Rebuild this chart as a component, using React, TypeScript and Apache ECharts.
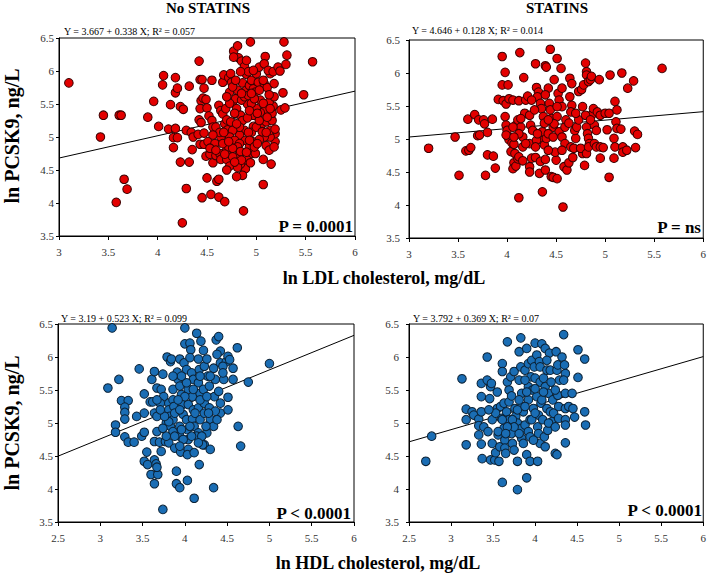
import React, { useEffect, useRef } from "react";
import * as echarts from "echarts";

const panelTitles = ["No STATINS", "STATINS"];
const yAxisTitle = "ln PCSK9, ng/L";
const xAxisTitles = ["ln LDL cholesterol, mg/dL", "ln HDL cholesterol, mg/dL"];
const pLabels = ["P = 0.0001", "P = ns", "P < 0.0001", "P < 0.0001"];
const intercepts = [3.667, 4.646, 3.19, 3.792];
const slopes = [0.338, 0.128, 0.523, 0.369];
const r2Values = [0.057, 0.014, 0.099, 0.07];
const xMins = [3, 3, 2.5, 2.5];
const xMax = 6;

const ldlNoStatins: [number, number][] = [
  [3.1, 5.82], [3.42, 5.0], [3.45, 5.33], [3.61, 5.33], [3.63, 5.33], [3.58, 4.01], [3.66, 4.36], [3.69, 4.21],
  [3.9, 5.3], [3.96, 5.54], [4.01, 5.16], [4.05, 5.79], [4.06, 5.93], [4.13, 5.49], [4.18, 5.9], [4.18, 5.67],
  [4.2, 5.74], [4.11, 5.12], [4.18, 5.13], [4.16, 4.99], [4.16, 4.84], [4.2, 4.99], [4.23, 5.46], [4.26, 5.42],
  [4.32, 5.77], [4.23, 4.62], [4.32, 4.62], [4.29, 4.22], [4.25, 3.7], [4.29, 5.1], [4.34, 5.07], [4.35, 4.81],
  [4.36, 5.0], [4.41, 5.04], [4.42, 5.26], [4.42, 6.15], [4.43, 5.87], [4.45, 5.87], [4.44, 5.55], [4.43, 5.43],
  [4.46, 5.59], [4.47, 5.74], [4.49, 5.57], [4.5, 5.44], [4.44, 5.22], [4.47, 5.06], [4.43, 4.89], [4.47, 4.89],
  [4.51, 4.93], [4.52, 5.32], [4.55, 5.25], [4.56, 5.15], [4.55, 5.86], [4.49, 4.71], [4.5, 4.38], [4.45, 4.08],
  [4.54, 4.13], [4.53, 4.74], [4.56, 4.61], [4.59, 4.72], [4.6, 4.33], [4.62, 4.36], [4.62, 4.09], [4.68, 4.02],
  [4.64, 5.0], [4.63, 4.75], [4.64, 4.66], [4.7, 4.66], [4.73, 4.56], [4.7, 4.8], [4.72, 4.85], [4.62, 5.48],
  [4.64, 5.4], [4.66, 5.35], [4.68, 5.2], [4.69, 5.43], [4.7, 5.26], [4.71, 5.11], [4.66, 5.83], [4.67, 5.94],
  [4.72, 5.9], [4.74, 5.96], [4.75, 5.83], [4.73, 5.68], [4.76, 5.53], [4.77, 6.3], [4.81, 6.38], [4.82, 6.2],
  [4.85, 6.15], [4.79, 5.58], [4.81, 5.71], [4.8, 5.43], [4.84, 5.33], [4.86, 5.82], [4.88, 6.07], [4.9, 5.95],
  [4.92, 5.99], [4.94, 6.44], [4.9, 5.71], [4.93, 5.78], [4.95, 5.86], [4.97, 5.73], [4.99, 5.68], [5.0, 5.96],
  [5.02, 5.83], [4.91, 5.5], [4.86, 5.25], [4.88, 5.1], [4.83, 5.03], [4.89, 4.95], [4.93, 4.85], [4.96, 4.93],
  [4.95, 4.75], [4.99, 4.75], [4.91, 4.65], [4.89, 4.52], [4.86, 4.42], [4.8, 4.4], [4.84, 4.59], [4.83, 4.74],
  [4.76, 4.7], [4.87, 3.88], [5.07, 4.28], [5.07, 4.66], [5.15, 4.59], [5.1, 4.87], [5.19, 4.93], [5.19, 5.05],
  [5.14, 5.0], [5.08, 5.0], [5.03, 4.96], [5.05, 5.18], [5.1, 5.23], [5.16, 5.25], [5.16, 5.36], [5.17, 5.47],
  [5.13, 5.53], [5.18, 5.61], [5.09, 5.41], [5.04, 5.37], [5.0, 5.43], [4.97, 5.33], [4.95, 5.51], [5.04, 5.56],
  [5.08, 5.81], [5.11, 5.75], [5.13, 5.64], [5.07, 5.86], [5.14, 5.96], [5.18, 5.81], [5.03, 6.06], [5.09, 6.22],
  [5.08, 6.11], [5.12, 6.01], [5.17, 5.99], [5.22, 6.06], [5.24, 6.0], [5.27, 5.67], [5.28, 6.44], [5.31, 6.24],
  [5.3, 6.1], [5.25, 5.41], [5.29, 5.44], [5.48, 5.64], [5.57, 6.14], [4.97, 5.16], [4.95, 5.07], [4.92, 5.07],
  [4.83, 5.15], [4.76, 5.1], [4.73, 5.0], [4.78, 4.95], [4.83, 4.9], [4.91, 5.29], [4.93, 5.4], [4.78, 5.36],
  [4.74, 5.23], [4.8, 5.2], [4.85, 5.56], [4.88, 5.61], [4.92, 5.63], [4.98, 5.58], [5.0, 5.15], [5.03, 5.25],
  [5.06, 5.08], [5.11, 5.3], [4.81, 4.85], [4.84, 4.78], [4.76, 4.83], [4.59, 5.15], [4.63, 5.07], [4.58, 4.9],
  [4.53, 4.83], [4.56, 5.03], [4.73, 5.51], [4.7, 5.61], [4.76, 5.76], [4.79, 5.86], [4.84, 5.99], [4.85, 5.66],
  [4.95, 5.66], [5.03, 5.71], [4.9, 6.16], [4.97, 6.01], [4.77, 6.21], [4.59, 4.8], [4.66, 4.9], [4.68, 4.74],
  [4.72, 4.93], [4.81, 4.54], [4.85, 4.65], [4.78, 4.62], [4.94, 4.61], [4.93, 4.95], [4.9, 4.77], [4.98, 4.85],
  [5.01, 4.9], [5.13, 4.8], [5.18, 4.85], [5.14, 5.1], [5.19, 5.12], [5.1, 5.07], [5.07, 5.51], [5.01, 5.36],
  [5.14, 5.43], [4.67, 5.07], [4.7, 4.5],
];

const ldlStatins: [number, number][] = [
  [3.2, 4.86], [3.47, 5.03], [3.51, 4.45], [3.6, 5.3], [3.58, 4.82], [3.61, 4.83], [3.63, 4.87], [3.67, 5.37],
  [3.71, 5.29], [3.7, 5.05], [3.72, 5.06], [3.76, 5.29], [3.77, 5.23], [3.78, 4.45], [3.8, 4.76], [3.8, 5.1],
  [3.85, 5.3], [3.86, 4.74], [3.88, 4.56], [3.91, 5.6], [3.95, 6.25], [3.98, 6.01], [3.95, 5.82], [4.01, 5.82],
  [3.96, 5.58], [3.99, 5.53], [4.02, 5.61], [4.06, 5.59], [3.98, 5.34], [3.99, 5.21], [4.0, 5.13], [4.01, 5.03],
  [4.02, 4.99], [4.05, 4.94], [4.04, 4.81], [4.07, 4.92], [4.08, 4.78], [4.07, 4.64], [4.06, 4.55], [4.09, 4.59],
  [4.11, 4.7], [4.12, 4.73], [4.12, 4.11], [4.13, 6.31], [4.12, 5.58], [4.17, 5.93], [4.18, 5.39], [4.09, 5.21],
  [4.11, 5.29], [4.14, 5.18], [4.16, 5.03], [4.12, 5.08], [4.19, 5.59], [4.21, 5.65], [4.23, 5.36], [4.24, 5.21],
  [4.26, 5.13], [4.23, 4.93], [4.23, 4.58], [4.23, 4.5], [4.25, 4.71], [4.29, 4.72], [4.29, 6.14], [4.3, 5.78],
  [4.32, 5.71], [4.31, 5.64], [4.33, 4.48], [4.34, 4.66], [4.36, 4.2], [4.39, 4.53], [4.39, 4.69], [4.39, 6.11],
  [4.4, 6.09], [4.44, 6.36], [4.34, 5.54], [4.35, 5.46], [4.37, 5.34], [4.38, 5.24], [4.36, 5.11], [4.37, 4.98],
  [4.38, 4.91], [4.4, 5.01], [4.42, 5.77], [4.43, 5.54], [4.44, 5.44], [4.45, 5.31], [4.47, 5.18], [4.45, 4.43],
  [4.47, 4.42], [4.51, 4.4], [4.5, 4.68], [4.49, 4.8], [4.48, 5.9], [4.51, 6.22], [4.55, 6.07], [4.52, 5.69],
  [4.56, 5.77], [4.53, 5.59], [4.56, 5.49], [4.51, 5.34], [4.53, 5.11], [4.56, 5.03], [4.59, 5.18], [4.6, 5.29],
  [4.59, 4.93], [4.58, 4.58], [4.57, 3.97], [4.61, 4.53], [4.63, 4.64], [4.64, 5.92], [4.66, 5.84], [4.64, 5.64],
  [4.66, 5.51], [4.65, 5.41], [4.65, 4.88], [4.68, 4.86], [4.7, 5.01], [4.69, 5.13], [4.71, 5.18], [4.73, 5.29],
  [4.73, 5.72], [4.76, 5.75], [4.78, 5.82], [4.8, 6.15], [4.81, 6.02], [4.81, 5.97], [4.83, 5.87], [4.85, 5.9],
  [4.86, 5.95], [4.77, 4.78], [4.75, 4.86], [4.79, 4.6], [4.81, 4.78], [4.81, 5.18], [4.82, 5.08], [4.83, 5.01],
  [4.84, 4.93], [4.83, 4.88], [4.86, 5.36], [4.88, 5.46], [4.89, 5.21], [4.91, 5.13], [4.92, 5.41], [4.94, 5.9],
  [4.95, 5.36], [4.89, 4.93], [4.91, 4.88], [4.95, 4.88], [4.98, 4.87], [4.95, 4.71], [5.0, 5.39], [5.02, 5.14],
  [5.04, 5.39], [5.05, 5.97], [5.04, 4.42], [5.09, 4.71], [5.09, 5.01], [5.1, 4.88], [5.1, 5.57], [5.12, 5.44],
  [5.11, 5.26], [5.12, 5.16], [5.16, 5.15], [5.17, 6.0], [5.18, 4.88], [5.18, 4.8], [5.22, 4.83], [5.23, 5.77],
  [5.29, 5.88], [5.3, 5.12], [5.33, 5.07], [5.31, 4.87], [5.58, 6.07], [3.99, 5.06], [4.06, 5.18], [4.16, 4.88],
  [4.3, 4.98], [4.31, 5.08], [4.42, 5.08], [4.47, 5.03], [4.48, 5.23], [4.51, 5.49], [4.39, 5.67], [4.28, 5.44],
  [4.25, 5.59], [4.42, 5.29], [4.56, 4.83], [4.63, 5.24], [4.77, 5.49], [4.8, 5.36], [4.85, 5.29], [4.7, 5.39],
  [4.19, 4.93], [4.14, 5.31], [4.07, 5.03], [4.16, 4.67], [4.29, 4.88], [4.42, 4.83], [4.67, 4.72],
];

const hdlNoStatins: [number, number][] = [
  [3.14, 6.44], [3.09, 5.53], [3.22, 5.66], [3.18, 4.97], [3.18, 4.86], [3.25, 5.34], [3.33, 5.34], [3.29, 5.24],
  [3.29, 5.16], [3.29, 5.06], [3.29, 4.79], [3.33, 4.71], [3.4, 4.71], [3.43, 5.1], [3.46, 5.82], [3.52, 5.44],
  [3.52, 5.15], [3.49, 4.8], [3.52, 4.86], [3.52, 4.42], [3.55, 4.56], [3.56, 4.37], [3.6, 4.22], [3.59, 5.32],
  [3.62, 5.32], [3.61, 5.66], [3.64, 4.72], [3.64, 4.44], [3.66, 4.38], [3.68, 4.22], [3.64, 4.08], [3.67, 4.33],
  [3.64, 5.78], [3.67, 5.53], [3.64, 5.15], [3.67, 5.1], [3.67, 4.87], [3.7, 4.71], [3.72, 4.57], [3.74, 5.74],
  [3.72, 5.51], [3.75, 5.4], [3.71, 5.3], [3.74, 3.69], [3.77, 4.72], [3.78, 5.0], [3.79, 6.0], [3.81, 5.3],
  [3.81, 5.2], [3.82, 5.1], [3.83, 4.95], [3.81, 4.7], [3.83, 5.93], [3.84, 5.97], [3.86, 5.51], [3.86, 5.35],
  [3.87, 5.25], [3.86, 4.87], [3.88, 4.62], [3.9, 4.27], [3.9, 4.08], [3.94, 4.02], [3.91, 5.77], [3.94, 5.97],
  [3.92, 5.66], [3.94, 5.56], [3.96, 5.43], [3.94, 4.95], [3.94, 4.8], [3.95, 4.56], [3.98, 5.13], [3.99, 5.91],
  [3.97, 5.28], [4.0, 6.44], [4.0, 6.2], [4.02, 5.81], [4.04, 5.51], [4.04, 5.28], [4.02, 5.05], [4.03, 4.9],
  [4.04, 4.75], [4.04, 4.6], [4.03, 4.52], [4.03, 4.13], [4.06, 6.21], [4.07, 6.11], [4.06, 5.99], [4.08, 5.76],
  [4.1, 5.66], [4.09, 5.4], [4.1, 5.2], [4.09, 5.06], [4.11, 4.95], [4.11, 4.55], [4.11, 3.86], [4.14, 6.36],
  [4.16, 5.97], [4.17, 5.81], [4.16, 5.61], [4.18, 5.45], [4.16, 5.23], [4.18, 5.05], [4.16, 4.85], [4.17, 4.37],
  [4.19, 6.24], [4.22, 6.1], [4.23, 5.86], [4.22, 5.51], [4.23, 5.3], [4.23, 5.15], [4.23, 4.67], [4.21, 4.67],
  [4.26, 5.97], [4.27, 5.71], [4.29, 5.56], [4.29, 5.23], [4.3, 5.0], [4.3, 4.6], [4.3, 5.06], [4.34, 4.02],
  [4.34, 5.83], [4.36, 5.66], [4.35, 5.4], [4.37, 6.26], [4.4, 6.31], [4.42, 6.09], [4.38, 6.04], [4.42, 5.91],
  [4.4, 5.48], [4.42, 5.15], [4.46, 5.66], [4.49, 5.93], [4.45, 5.86], [4.45, 5.76], [4.51, 5.39], [4.51, 5.2],
  [4.51, 6.01], [4.53, 5.96], [4.57, 5.83], [4.57, 5.66], [4.62, 6.14], [4.63, 4.95], [4.66, 4.65], [4.75, 5.62],
  [5.0, 5.9], [4.42, 5.3], [4.34, 4.95], [4.38, 5.05], [4.26, 4.85], [4.25, 4.95], [4.14, 4.8], [4.2, 4.8],
  [4.08, 4.8], [3.98, 4.75], [3.94, 4.65], [3.86, 5.05], [3.81, 5.02], [3.76, 5.1], [3.88, 5.15], [3.94, 5.2],
  [4.0, 5.4], [3.92, 5.35], [4.1, 5.51], [4.18, 5.35], [4.26, 5.4], [4.3, 5.71], [4.18, 5.71], [4.02, 5.61],
  [3.96, 5.71], [3.86, 5.71], [4.36, 5.18], [4.28, 5.15], [4.12, 5.15], [4.06, 4.95], [3.96, 4.9], [3.88, 4.8],
  [3.78, 4.8], [3.74, 4.92], [3.71, 5.2], [3.67, 5.35], [4.16, 4.7],
];

const hdlStatins: [number, number][] = [
  [2.7, 4.42], [2.77, 4.8], [3.13, 5.67], [3.18, 5.21], [3.18, 5.05], [3.18, 4.67], [3.25, 5.17], [3.27, 5.12],
  [3.33, 5.06], [3.33, 4.96], [3.33, 4.82], [3.36, 5.6], [3.36, 5.4], [3.36, 5.17], [3.36, 4.68], [3.37, 4.46],
  [3.39, 4.94], [3.43, 6.0], [3.43, 5.65], [3.44, 4.87], [3.46, 5.37], [3.47, 5.55], [3.48, 5.6], [3.49, 5.05],
  [3.49, 4.69], [3.47, 4.44], [3.52, 4.44], [3.53, 4.55], [3.55, 5.47], [3.55, 5.22], [3.56, 4.82], [3.57, 4.42],
  [3.58, 4.64], [3.59, 5.25], [3.6, 5.07], [3.61, 5.9], [3.61, 5.78], [3.61, 4.1], [3.63, 5.3], [3.63, 4.92],
  [3.64, 4.74], [3.64, 4.62], [3.65, 4.54], [3.66, 5.17], [3.67, 6.23], [3.67, 5.62], [3.69, 5.5], [3.69, 5.32],
  [3.69, 5.05], [3.71, 5.7], [3.72, 5.41], [3.72, 4.84], [3.73, 4.69], [3.75, 4.59], [3.75, 5.78], [3.76, 5.22],
  [3.77, 5.1], [3.79, 4.42], [3.79, 3.99], [3.79, 5.0], [3.81, 5.65], [3.81, 6.08], [3.83, 6.29], [3.83, 5.85],
  [3.84, 5.45], [3.84, 5.25], [3.84, 4.92], [3.84, 4.77], [3.86, 5.17], [3.88, 5.8], [3.88, 4.97], [3.9, 6.13],
  [3.9, 4.17], [3.9, 4.52], [3.92, 5.9], [3.92, 5.55], [3.92, 5.35], [3.92, 4.87], [3.94, 4.42], [3.94, 5.05],
  [3.95, 5.7], [3.96, 5.95], [3.97, 5.5], [3.98, 5.22], [3.99, 5.85], [4.0, 5.68], [4.0, 6.21], [4.02, 6.03],
  [4.02, 5.4], [4.03, 4.94], [4.03, 4.42], [4.04, 5.12], [4.04, 4.84], [4.05, 5.93], [4.06, 5.85], [4.06, 5.62],
  [4.06, 4.69], [4.07, 5.3], [4.08, 6.2], [4.09, 5.05], [4.1, 5.68], [4.11, 4.79], [4.12, 5.55], [4.12, 6.13],
  [4.14, 5.8], [4.14, 5.22], [4.15, 4.89], [4.16, 5.45], [4.17, 6.06], [4.18, 5.8], [4.18, 5.17], [4.19, 5.62],
  [4.2, 5.02], [4.21, 5.35], [4.22, 5.15], [4.24, 4.54], [4.26, 4.52], [4.25, 6.08], [4.26, 5.8], [4.27, 5.88],
  [4.27, 5.42], [4.28, 5.25], [4.28, 5.07], [4.29, 5.65], [4.32, 6.0], [4.34, 6.34], [4.35, 5.88], [4.36, 5.75],
  [4.36, 5.45], [4.36, 5.22], [4.36, 5.05], [4.36, 4.97], [4.36, 4.7], [4.4, 5.25], [4.44, 5.45], [4.45, 5.22],
  [4.47, 5.09], [4.51, 6.11], [4.51, 5.69], [4.59, 5.97], [4.59, 5.17], [4.6, 4.97], [3.61, 5.05], [3.73, 5.05],
  [3.79, 5.2], [3.81, 5.35], [3.88, 5.25], [3.96, 5.05], [4.0, 5.15], [4.08, 5.35], [4.16, 5.0], [4.24, 4.94],
  [3.94, 4.79], [3.86, 4.69], [3.81, 4.84], [3.75, 4.94], [3.67, 4.94], [3.53, 5.15], [3.45, 5.2], [3.56, 4.87],
  [3.65, 4.84], [3.9, 5.47], [4.0, 5.52], [4.1, 5.47], [4.24, 5.5], [4.34, 5.65], [3.88, 5.65], [4.14, 5.95],
  [3.98, 4.74], [4.12, 4.64],
];

const panelData = [ldlNoStatins, ldlStatins, hdlNoStatins, hdlStatins];
const fillColors = ["#e30000", "#e30000", "#1a6db4", "#1a6db4"];
const edgeColors = ["#3b0000", "#3b0000", "#0b2236", "#0b2236"];

// layout (pixels)
const grids = [
  { left: 59, top: 38, width: 296, height: 198 },
  { left: 409, top: 40, width: 296, height: 198 },
  { left: 58, top: 324, width: 296, height: 198 },
  { left: 409, top: 324, width: 297, height: 198 },
];
const yLabelMargins = [5, 9, 5, 10];

const serif = "'Liberation Serif', 'Times New Roman', serif";

export default function App() {
  const ref = useRef<HTMLDivElement>(null);
  useEffect(() => {
    if (!ref.current) return;
    const chart = echarts.init(ref.current, undefined, { renderer: "svg" });

    const xAxes = grids.map((_, i) => ({
      type: "value",
      gridIndex: i,
      min: xMins[i],
      max: xMax,
      interval: 0.5,
      axisLine: { show: true, onZero: false, lineStyle: { color: "#000", width: 1 } },
      axisTick: { show: true, inside: false, length: 4, lineStyle: { color: "#000" } },
      axisLabel: { fontFamily: serif, fontSize: 11, color: "#333", margin: 10 },
      splitLine: { show: false },
    }));
    const yAxes = grids.map((_, i) => ({
      type: "value",
      gridIndex: i,
      min: 3.5,
      max: 6.5,
      interval: 0.5,
      axisLine: { show: true, onZero: false, lineStyle: { color: "#000", width: 1 } },
      axisTick: { show: true, inside: false, length: 3, lineStyle: { color: "#000" } },
      axisLabel: { fontFamily: serif, fontSize: 11, color: "#333", margin: yLabelMargins[i] },
      splitLine: { show: false },
    }));

    const series: any[] = [];
    panelData.forEach((pts, i) => {
      const x0 = xMins[i];
      series.push({
        type: "line",
        xAxisIndex: i,
        yAxisIndex: i,
        data: [
          [x0, intercepts[i] + slopes[i] * x0],
          [xMax, intercepts[i] + slopes[i] * xMax],
        ],
        showSymbol: false,
        symbol: "none",
        lineStyle: { color: "#000", width: 1 },
        z: 1,
        silent: true,
      });
      series.push({
        type: "scatter",
        xAxisIndex: i,
        yAxisIndex: i,
        data: pts,
        symbol: "circle",
        symbolSize: 8.6,
        itemStyle: { color: fillColors[i], borderColor: edgeColors[i], borderWidth: 1, opacity: 1 },
        z: 2,
      });
    });

    const graphic: any[] = [];
    graphic.push({ type: "text", x: 208, y: 8, style: { text: panelTitles[0], font: `bold 15px ${serif}`, fill: "#000", textAlign: "center", textVerticalAlign: "middle" } });
    graphic.push({ type: "text", x: 557, y: 8, style: { text: panelTitles[1], font: `bold 15px ${serif}`, fill: "#000", textAlign: "center", textVerticalAlign: "middle" } });
    [136, 423].forEach((cy) => {
      graphic.push({ type: "text", x: 12, y: cy, rotation: Math.PI / 2, style: { text: yAxisTitle, font: `bold 20px ${serif}`, fill: "#000", textAlign: "center", textVerticalAlign: "middle" } });
    });
    graphic.push({ type: "text", x: 384, y: 278, style: { text: xAxisTitles[0], font: `bold 18px ${serif}`, fill: "#000", textAlign: "center", textVerticalAlign: "middle" } });
    graphic.push({ type: "text", x: 378, y: 563, style: { text: xAxisTitles[1], font: `bold 18px ${serif}`, fill: "#000", textAlign: "center", textVerticalAlign: "middle" } });
    const eqPos = [[64, 31], [412, 30], [61, 318], [413, 318]];
    eqPos.forEach(([x, y], i) => {
      graphic.push({ type: "text", x, y, style: { text: `Y = ${intercepts[i]} + ${slopes[i]} X; R² = ${r2Values[i]}`, font: `10px ${serif}`, fill: "#000", textAlign: "left", textVerticalAlign: "middle" } });
    });
    const pPos = [[353, 226], [701, 227], [351, 513], [702, 510]];
    pPos.forEach(([x, y], i) => {
      graphic.push({ type: "text", x, y, z: 10, style: { text: pLabels[i], font: `bold 17px ${serif}`, fill: "#000", textAlign: "right", textVerticalAlign: "middle" } });
    });

    chart.setOption({
      animation: false,
      backgroundColor: "#fff",
      grid: grids.map((g) => ({ ...g, show: true, borderColor: "#000", borderWidth: 1, backgroundColor: "transparent", containLabel: false })),
      xAxis: xAxes,
      yAxis: yAxes,
      series,
      graphic,
    });
    return () => chart.dispose();
  }, []);
  return <div ref={ref} style={{ position: "absolute", left: 0, top: 0, width: 709, height: 573 }} />;
}
